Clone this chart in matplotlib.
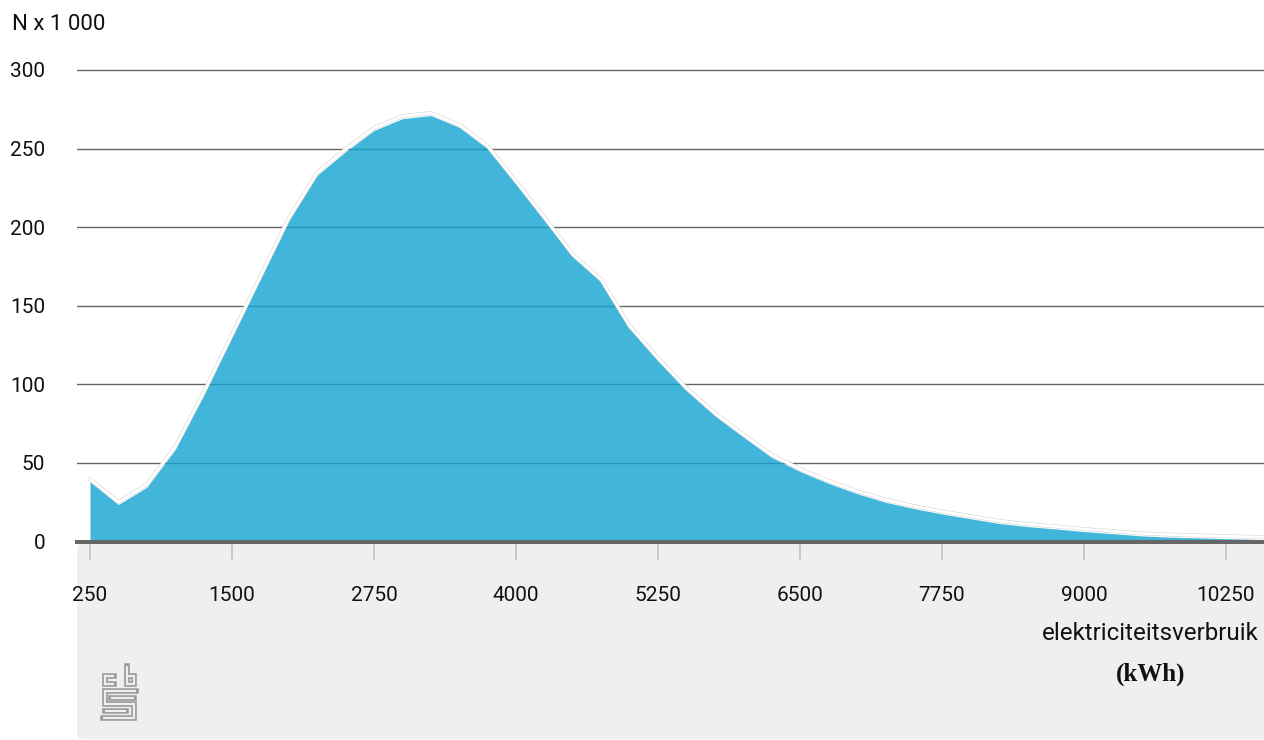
import numpy as np
import matplotlib
matplotlib.use('Agg')
import matplotlib.pyplot as plt
import matplotlib.patheffects as pe
from matplotlib.patches import FancyBboxPatch
from matplotlib.lines import Line2D
from matplotlib.transforms import IdentityTransform, offset_copy

# ---------------------------------------------------------------- data
kwh = list(range(250, 10751, 250))
households_k = [38, 23.5, 34.5, 58.5, 93, 130, 167, 204, 233, 248,
                261.5, 269, 271, 263.5, 250, 227.5, 204.5, 181, 165, 135.5,
                115, 96, 80, 66.5, 53.5, 44.5, 37, 30.5, 25, 21,
                17.5, 14.5, 11.5, 9.5, 8, 6.3, 5, 3.6, 2.8, 2.3,
                1.8, 1.3, 1.0]
xticks = [250, 1500, 2750, 4000, 5250, 6500, 7750, 9000, 10250]
yticks = [0, 50, 100, 150, 200, 250, 300]

INK = '#111111'
GRID = '#666666'
PANEL = '#efefef'
TICK = '#c8c8c8'
FILL = '#12a4d1'   # alpha 0.8 over white -> #41b6da

plt.rcParams.update({'font.family': ['Roboto', 'DejaVu Sans'], 'text.color': INK})

W, H = 1264, 740
fig = plt.figure(figsize=(W / 100, H / 100), dpi=100)
fig.patch.set_facecolor('white')

# grey panel under the x axis (display pixels, rounded bottom-left corner)
panel = FancyBboxPatch((77, 0.8), 1300, H - 543.5 - 0.8,
                       boxstyle='round,pad=0,rounding_size=6',
                       facecolor=PANEL, edgecolor='none',
                       transform=IdentityTransform(), zorder=-5)
fig.patches.append(panel)

ax_top = 62.1
ax_bot = 541.5
ax = fig.add_axes([77 / W, (H - ax_bot) / H, 1 - 77 / W, (ax_bot - ax_top) / H])
ax.set_facecolor('none')

ax.fill_between(kwh, households_k, 0, color=FILL, alpha=0.8, linewidth=0, zorder=2)
edge_tr = offset_copy(ax.transData, fig=fig, x=0, y=1.8, units='points')
ax.plot(kwh, households_k, color='white', lw=2.0, transform=edge_tr, zorder=3,
        solid_joinstyle='miter',
        path_effects=[pe.Stroke(linewidth=2.8, foreground='#d4d4d4'), pe.Normal()])

ax.set_xlim(136, 10584)
ax.set_ylim(0, 305)
ax.set_yticks(yticks)
ax.set_xticks(xticks)
ax.set_xticklabels([str(t) for t in xticks])
ax.grid(axis='y', color=GRID, linewidth=1.0, zorder=1)
ax.grid(axis='x', visible=False)
ax.set_axisbelow(True)

for s in ('top', 'right', 'left'):
    ax.spines[s].set_visible(False)
ax.spines['bottom'].set_color(GRID)
ax.spines['bottom'].set_linewidth(2.9)
ax.spines['bottom'].set_zorder(5)

ax.tick_params(axis='y', length=0, pad=23, labelsize=15, labelcolor=INK)
ax.tick_params(axis='x', length=13, width=1.4, color=TICK, direction='out',
               pad=19, labelsize=15, labelcolor=INK)

fig.text(12 / W, 1 - 24 / H, 'N x 1 000', fontsize=16, ha='left', va='center')
fig.text(1259 / W, 1 - 634 / H, 'elektriciteitsverbruik', fontsize=17.4,
         ha='right', va='center')
fig.text(1151 / W, 1 - 674 / H, '(kWh)', fontsize=18, fontweight='bold',
         family='Liberation Serif', ha='center', va='center')

# cbs logo, outlined strokes in display pixels
LOGO = '#9a9a9a'
ox, oy = 95, 660
logo_paths = [
    [(19, 15.5), (9.5, 15.5), (9.5, 23.5), (19, 23.5)],                     # c
    [(31.5, 5.5), (31.5, 23.5), (38.5, 23.5), (38.5, 15.5), (31.5, 15.5)],  # b
    [(41, 30.5), (9.5, 30.5), (9.5, 44), (38.5, 44), (38.5, 58),
     (7.5, 58)],                                                             # s
    [(16, 37.5), (38.5, 37.5)],
    [(9.5, 51), (31, 51)],
]
for pts in logo_paths:
    xs = [ox + p[0] for p in pts]
    ys = [H - (oy + p[1]) for p in pts]
    fig.lines.append(Line2D(xs, ys, transform=IdentityTransform(), color=LOGO,
                            lw=4.0, solid_joinstyle='miter', solid_capstyle='projecting',
                            zorder=3))
    fig.lines.append(Line2D(xs, ys, transform=IdentityTransform(), color=PANEL,
                            lw=1.6, solid_joinstyle='miter', solid_capstyle='butt',
                            zorder=4))

fig.savefig('out.png', dpi=100)
